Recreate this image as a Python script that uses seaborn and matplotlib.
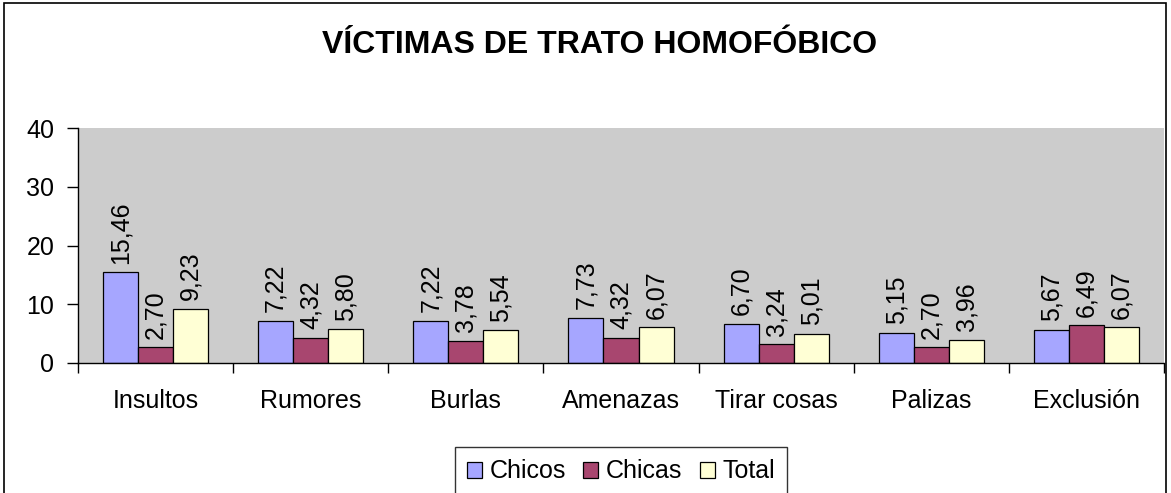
import numpy as np
import pandas as pd
import seaborn as sns
import matplotlib.pyplot as plt
from matplotlib.patches import Rectangle

# Data
categorias = ['Insultos', 'Rumores', 'Burlas', 'Amenazas', 'Tirar cosas', 'Palizas', 'Exclusión']
chicos = [15.46, 7.22, 7.22, 7.73, 6.70, 5.15, 5.67]
chicas = [2.70, 4.32, 3.78, 4.32, 3.24, 2.70, 6.49]
total = [9.23, 5.80, 5.54, 6.07, 5.01, 3.96, 6.07]
grupos = ['Chicos', 'Chicas', 'Total']
colores = ['#A6A6FF', '#A8466F', '#FFFFD5']

df = pd.DataFrame({
    'categoria': categorias * 3,
    'valor': chicos + chicas + total,
    'grupo': np.repeat(grupos, len(categorias)),
})

sns.set_style('white')
plt.rcParams['font.family'] = ['Liberation Sans', 'DejaVu Sans']
plt.rcParams['text.color'] = 'black'
plt.rcParams['xtick.color'] = 'black'
plt.rcParams['ytick.color'] = 'black'

fig = plt.figure(figsize=(11.71, 4.93), dpi=100)
ax = fig.add_axes([78 / 1171, 1 - 363 / 493, (1164 - 78) / 1171, (363 - 128) / 493])
ax.set_facecolor('#CCCCCC')

sns.barplot(data=df, x='categoria', y='valor', hue='grupo', palette=colores,
            width=0.677, edgecolor='black', linewidth=0.9, saturation=1, ax=ax)

# data labels, rotated like the original
for c in ax.containers:
    etiquetas = [f"{v:.2f}".replace('.', ',') for v in c.datavalues]
    ax.bar_label(c, labels=etiquetas, rotation=90, padding=6, fontsize=18, color='black')

ax.set_xlim(-0.5, len(categorias) - 0.5)
ax.set_ylim(0, 40)
ax.set_yticks([0, 10, 20, 30, 40])
ax.set_xlabel('')
ax.set_ylabel('')

# category separators as major ticks, names on minor ticks
pos = np.arange(len(categorias))
ax.set_xticks(np.append(pos - 0.5, len(categorias) - 0.5))
ax.set_xticklabels([])
ax.set_xticks(pos, minor=True)
ax.set_xticklabels(categorias, minor=True)
ax.tick_params(axis='x', which='major', direction='out', length=7, width=1, color='black', bottom=True)
ax.tick_params(axis='x', which='minor', length=0, pad=19, labelsize=18)
ax.tick_params(axis='y', direction='out', length=8, width=1, color='black', left=True, pad=9, labelsize=18)

for s in ['top', 'right']:
    ax.spines[s].set_visible(False)
for s in ['left', 'bottom']:
    ax.spines[s].set_color('black')
    ax.spines[s].set_linewidth(1)

leg = ax.legend(loc='upper center', bbox_to_anchor=(0.5, -(447 - 363) / 235), ncol=3,
                frameon=True, fancybox=False, edgecolor='black', fontsize=18,
                handlelength=0.6, handleheight=0.6, handletextpad=0.3,
                columnspacing=0.7, borderpad=0.5, borderaxespad=0)
leg.get_frame().set_linewidth(1)

fig.text(0.512, 1 - 45 / 493, 'VÍCTIMAS DE TRATO HOMOFÓBICO', ha='center', va='center',
         fontsize=23, fontweight='bold', color='black')

fig.patches.append(Rectangle((4 / 1171, -0.05), 1162 / 1171, 1.05 - 3 / 493,
                             transform=fig.transFigure, fill=False,
                             edgecolor='black', linewidth=1.2))

fig.savefig('out.png', dpi=100)
